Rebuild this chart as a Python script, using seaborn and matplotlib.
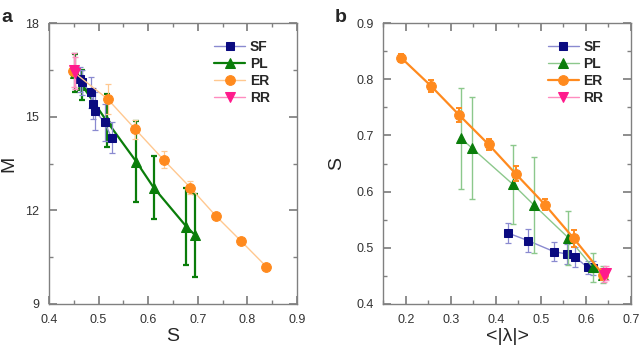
import numpy as np
import seaborn as sns
import matplotlib.pyplot as plt
from matplotlib.ticker import MultipleLocator

# ---- panel a: M vs S ----
a_sf_s = [0.463, 0.466, 0.484, 0.489, 0.493, 0.512, 0.526]
a_sf_m = [16.20, 16.10, 15.78, 15.42, 15.18, 14.82, 14.33]
a_sf_err = [0.40, 0.40, 0.50, 0.50, 0.60, 0.60, 0.50]

a_pl_s = [0.452, 0.466, 0.516, 0.576, 0.611, 0.677, 0.695]
a_pl_m = [16.40, 16.02, 14.87, 13.56, 12.73, 11.48, 11.20]
a_pl_err = [0.60, 0.48, 0.85, 1.30, 1.00, 1.23, 1.32]

a_er_s = [0.448, 0.518, 0.574, 0.631, 0.685, 0.736, 0.787, 0.838]
a_er_m = [16.45, 15.57, 14.60, 13.62, 12.73, 11.83, 11.02, 10.20]
a_er_err = [0.10, 0.48, 0.30, 0.27, 0.20, 0.10, 0.08, 0.08]

a_rr_s = [0.450, 0.453]
a_rr_m = [16.50, 16.40]
a_rr_err = [0.55, 0.50]

# ---- panel b: S vs <|lambda|> ----
b_sf_l = [0.428, 0.471, 0.530, 0.558, 0.576, 0.604, 0.617]
b_sf_s = [0.526, 0.513, 0.493, 0.489, 0.484, 0.465, 0.464]
b_sf_err = [0.018, 0.021, 0.017, 0.018, 0.018, 0.012, 0.012]

b_pl_l = [0.322, 0.348, 0.438, 0.485, 0.561, 0.616, 0.638]
b_pl_s = [0.695, 0.677, 0.613, 0.576, 0.518, 0.465, 0.452]
b_pl_err = [0.090, 0.091, 0.070, 0.085, 0.048, 0.025, 0.015]

b_er_l = [0.190, 0.256, 0.319, 0.384, 0.444, 0.509, 0.573, 0.639]
b_er_s = [0.838, 0.788, 0.736, 0.684, 0.632, 0.577, 0.517, 0.452]
b_er_err = [0.007, 0.010, 0.012, 0.010, 0.013, 0.010, 0.015, 0.010]

b_rr_l = [0.641, 0.645]
b_rr_s = [0.452, 0.455]
b_rr_err = [0.012, 0.012]

navy = '#0a0a80'
sf_light = '#8a8ad0'
green = '#0a7d0a'
green_light = '#8cc88c'
orange = '#ff8a1e'
orange_light = '#ffc890'
pink = '#ff1a8c'
pink_light = '#ff8cc0'

sns.set_theme(style="ticks")
plt.rcParams['font.family'] = ['Liberation Sans', 'DejaVu Sans']

fig = plt.figure(figsize=(6.4, 3.52), dpi=100)
ax1 = fig.add_axes([0.0766, 0.1364, 0.3874, 0.798])
ax2 = fig.add_axes([0.599, 0.1364, 0.3865, 0.798])


def series(ax, x, y, err, label, mk, ms, mcol, lcol, lw, ecol, elw, z):
    ax.errorbar(x, y, yerr=err, fmt='none', ecolor=ecol, elinewidth=elw,
                capsize=2.5, capthick=elw, zorder=z)
    sns.lineplot(x=x, y=y, ax=ax, color=lcol, linewidth=lw, marker=mk,
                 markersize=ms, markerfacecolor=mcol, markeredgecolor=mcol,
                 label=label, zorder=z + 0.5, errorbar=None)


series(ax1, a_sf_s, a_sf_m, a_sf_err, 'SF', 's', 6, navy, sf_light, 1.0, sf_light, 0.9, 3)
series(ax1, a_pl_s, a_pl_m, a_pl_err, 'PL', '^', 7.5, green, green, 1.6, green, 1.6, 2)
series(ax1, a_er_s, a_er_m, a_er_err, 'ER', 'o', 7, orange, orange_light, 1.0, orange_light, 0.9, 4)
series(ax1, a_rr_s, a_rr_m, a_rr_err, 'RR', 'v', 7, pink, pink_light, 1.0, pink_light, 1.0, 5)

series(ax2, b_sf_l, b_sf_s, b_sf_err, 'SF', 's', 6, navy, sf_light, 1.0, sf_light, 0.9, 2)
series(ax2, b_pl_l, b_pl_s, b_pl_err, 'PL', '^', 7.5, green, green_light, 1.0, green_light, 1.0, 3)
series(ax2, b_er_l, b_er_s, b_er_err, 'ER', 'o', 7, orange, orange, 1.6, orange, 1.4, 4)
series(ax2, b_rr_l, b_rr_s, b_rr_err, 'RR', 'v', 7, pink, pink_light, 1.0, pink_light, 1.0, 5)

ax1.set_xlim(0.4, 0.9)
ax1.set_ylim(9, 18)
ax1.xaxis.set_major_locator(MultipleLocator(0.1))
ax1.xaxis.set_minor_locator(MultipleLocator(0.05))
ax1.yaxis.set_major_locator(MultipleLocator(3))
ax1.yaxis.set_minor_locator(MultipleLocator(1.5))
ax1.set_xlabel('S', fontsize=14, labelpad=2)
ax1.set_ylabel('M', fontsize=14, labelpad=6)

ax2.set_xlim(0.15, 0.7)
ax2.set_ylim(0.4, 0.9)
ax2.xaxis.set_major_locator(MultipleLocator(0.1))
ax2.xaxis.set_minor_locator(MultipleLocator(0.05))
ax2.yaxis.set_major_locator(MultipleLocator(0.1))
ax2.yaxis.set_minor_locator(MultipleLocator(0.05))
ax2.set_xlabel('<|λ|>', fontsize=14, labelpad=2)
ax2.set_ylabel('S', fontsize=14, labelpad=8)

for ax in (ax1, ax2):
    for sp in ax.spines.values():
        sp.set_visible(True)
        sp.set_color('#808080')
        sp.set_linewidth(1.0)
    ax.tick_params(which='both', direction='in', top=True, right=True,
                   color='#808080', labelsize=9, labelcolor='#333333', pad=7)
    ax.tick_params(which='major', length=6)
    ax.tick_params(which='minor', length=3)
    ax.xaxis.set_major_formatter(plt.FormatStrFormatter('%g'))
    ax.yaxis.set_major_formatter(plt.FormatStrFormatter('%g'))
    ax.legend(loc='upper right', bbox_to_anchor=(0.963, 1.004), frameon=False,
              handlelength=2.2, handletextpad=0.35, labelspacing=0.22,
              borderaxespad=0.9, prop={'weight': 'bold', 'size': 10})

fig.text(0.002, 0.975, 'a', fontsize=14, fontweight='bold', va='top')
fig.text(0.523, 0.975, 'b', fontsize=14, fontweight='bold', va='top')

fig.savefig('out.png', dpi=100)
